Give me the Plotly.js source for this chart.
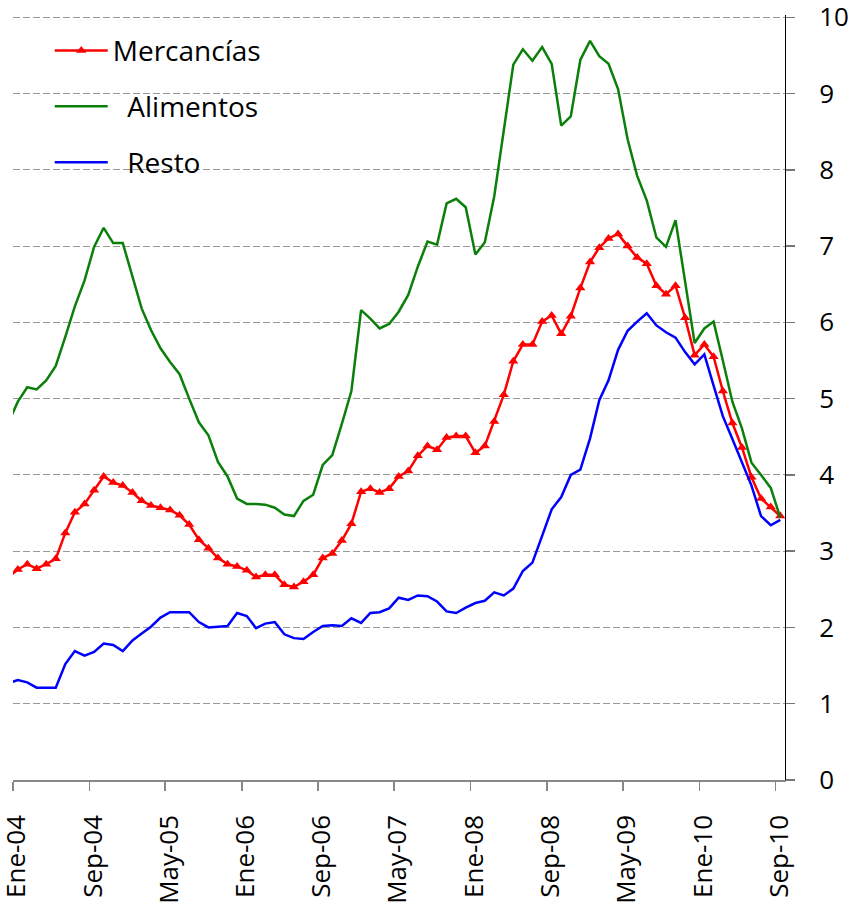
<!DOCTYPE html>
<html>
<head>
<meta charset="utf-8">
<script src="https://cdn.plot.ly/plotly-3.0.1.min.js"></script>
<style>
  html, body { margin: 0; padding: 0; background: #fff; }
  #chart { width: 848px; height: 909px; }
</style>
</head>
<body>
<div id="chart"></div>
<script>
// Months: Dic-03 (partly outside the axis) through Sep-10
const months = [
  '2003-12',
  '2004-01','2004-02','2004-03','2004-04','2004-05','2004-06','2004-07','2004-08','2004-09','2004-10','2004-11','2004-12',
  '2005-01','2005-02','2005-03','2005-04','2005-05','2005-06','2005-07','2005-08','2005-09','2005-10','2005-11','2005-12',
  '2006-01','2006-02','2006-03','2006-04','2006-05','2006-06','2006-07','2006-08','2006-09','2006-10','2006-11','2006-12',
  '2007-01','2007-02','2007-03','2007-04','2007-05','2007-06','2007-07','2007-08','2007-09','2007-10','2007-11','2007-12',
  '2008-01','2008-02','2008-03','2008-04','2008-05','2008-06','2008-07','2008-08','2008-09','2008-10','2008-11','2008-12',
  '2009-01','2009-02','2009-03','2009-04','2009-05','2009-06','2009-07','2009-08','2009-09','2009-10','2009-11','2009-12',
  '2010-01','2010-02','2010-03','2010-04','2010-05','2010-06','2010-07','2010-08','2010-09'
];

const mercancias = [
  2.66,
  2.76,2.83,2.77,2.83,2.90,3.24,3.51,3.62,3.80,3.98,3.90,3.86,
  3.77,3.66,3.60,3.57,3.54,3.47,3.35,3.15,3.04,2.91,2.83,2.80,
  2.75,2.66,2.69,2.69,2.56,2.53,2.60,2.69,2.91,2.97,3.14,3.36,
  3.78,3.82,3.77,3.82,3.98,4.05,4.25,4.38,4.33,4.49,4.51,4.51,
  4.29,4.38,4.70,5.05,5.49,5.71,5.71,6.01,6.09,5.85,6.08,6.45,
  6.79,6.98,7.10,7.16,7.00,6.85,6.77,6.48,6.37,6.48,6.06,5.57,
  5.71,5.55,5.10,4.68,4.36,3.97,3.69,3.58,3.46
];

const alimentos = [
  4.68,
  4.96,5.15,5.12,5.24,5.43,5.81,6.21,6.55,6.99,7.24,7.04,7.04,
  6.60,6.18,5.90,5.66,5.48,5.32,5.00,4.69,4.52,4.17,3.98,3.69,
  3.62,3.62,3.61,3.57,3.48,3.46,3.66,3.74,4.13,4.26,4.67,5.10,
  6.16,6.05,5.92,5.98,6.14,6.36,6.73,7.06,7.02,7.56,7.62,7.51,
  6.89,7.05,7.65,8.51,9.38,9.58,9.43,9.61,9.39,8.58,8.70,9.44,
  9.69,9.49,9.39,9.06,8.40,7.92,7.60,7.11,6.99,7.34,6.53,5.73,
  5.92,6.01,5.50,4.96,4.61,4.16,4.00,3.83,3.44
];

const resto = [
  1.27,
  1.31,1.28,1.21,1.21,1.21,1.52,1.69,1.63,1.68,1.79,1.77,1.69,
  1.83,1.92,2.01,2.13,2.20,2.20,2.20,2.07,2.00,2.01,2.02,2.19,
  2.15,1.99,2.05,2.07,1.91,1.86,1.85,1.94,2.02,2.03,2.02,2.12,
  2.06,2.19,2.20,2.25,2.39,2.36,2.42,2.41,2.34,2.21,2.19,2.26,
  2.32,2.35,2.46,2.42,2.51,2.74,2.85,3.20,3.55,3.71,4.00,4.07,
  4.48,4.98,5.24,5.64,5.89,6.01,6.12,5.96,5.87,5.80,5.61,5.45,
  5.58,5.17,4.77,4.47,4.16,3.86,3.46,3.34,3.41
];

const tickMonths = ['2004-01-01','2004-09-01','2005-05-01','2006-01-01','2006-09-01','2007-05-01',
                    '2008-01-01','2008-09-01','2009-05-01','2010-01-01','2010-09-01'];
const tickLabels = ['Ene-04','Sep-04','May-05','Ene-06','Sep-06','May-07',
                    'Ene-08','Sep-08','May-09','Ene-10','Sep-10'];
const yTicks = [0,1,2,3,4,5,6,7,8,9,10];

const FONT = 'Open Sans, sans-serif';
const NB = '\u00A0\u00A0';

const common = { x: months, xperiod: 'M1', xperiodalignment: 'middle', type: 'scatter' };

const traces = [
  Object.assign({}, common, {
    y: mercancias, name: 'Mercancías', mode: 'lines+markers', legendgroup: 'a',
    line: { color: '#FF0000', width: 2.5 },
    marker: { symbol: 'triangle-up', size: 9, color: '#FF0000' }
  }),
  Object.assign({}, common, {
    y: alimentos, name: NB + 'Alimentos', mode: 'lines', legendgroup: 'b',
    line: { color: '#0A800A', width: 2.5 }
  }),
  Object.assign({}, common, {
    y: resto, name: NB + 'Resto', mode: 'lines', legendgroup: 'c',
    line: { color: '#0000FF', width: 2.5 }
  })
];

const layout = {
  width: 848, height: 909,
  margin: { l: 13, r: 63, t: 14.7, b: 129 },
  paper_bgcolor: '#fff', plot_bgcolor: '#fff',
  font: { family: FONT, size: 26, color: '#000' },
  showlegend: true,
  legend: {
    x: 0.0476, y: 0.986, xanchor: 'left', yanchor: 'top',
    bgcolor: 'rgba(0,0,0,0)', borderwidth: 0,
    font: { family: FONT, size: 28, color: '#000' },
    itemwidth: 53, tracegroupgap: 16.5, traceorder: 'grouped'
  },
  xaxis: {
    type: 'date',
    range: ['2004-01-01', '2010-10-01'],
    tickmode: 'array', tickvals: tickMonths, ticktext: tickLabels,
    tickangle: -90,
    ticks: 'outside', ticklen: 9, tickcolor: '#888', tickwidth: 1.5,
    showline: true, linecolor: '#888', linewidth: 1.5,
    showgrid: false, zeroline: false,
    tickfont: { family: FONT, size: 26, color: '#000' },
    ticklabelstandoff: 14, ticklabelshift: 4, ticklabeloverflow: 'allow',
    automargin: false, fixedrange: true
  },
  yaxis: {
    side: 'right',
    range: [0, 10.03], tickmode: 'array', tickvals: yTicks,
    ticks: 'outside', ticklen: 9, tickcolor: '#777', tickwidth: 1.5,
    showline: true, linecolor: '#000', linewidth: 1,
    showgrid: true, gridcolor: '#999', gridwidth: 1, griddash: '7px,3px',
    zeroline: false,
    tickfont: { family: FONT, size: 26, color: '#000' },
    ticklabelstandoff: 19, ticklabeloverflow: 'allow',
    automargin: false, fixedrange: true
  }
};

Plotly.newPlot('chart', traces, layout, { displayModeBar: false, staticPlot: true });
</script>
</body>
</html>
